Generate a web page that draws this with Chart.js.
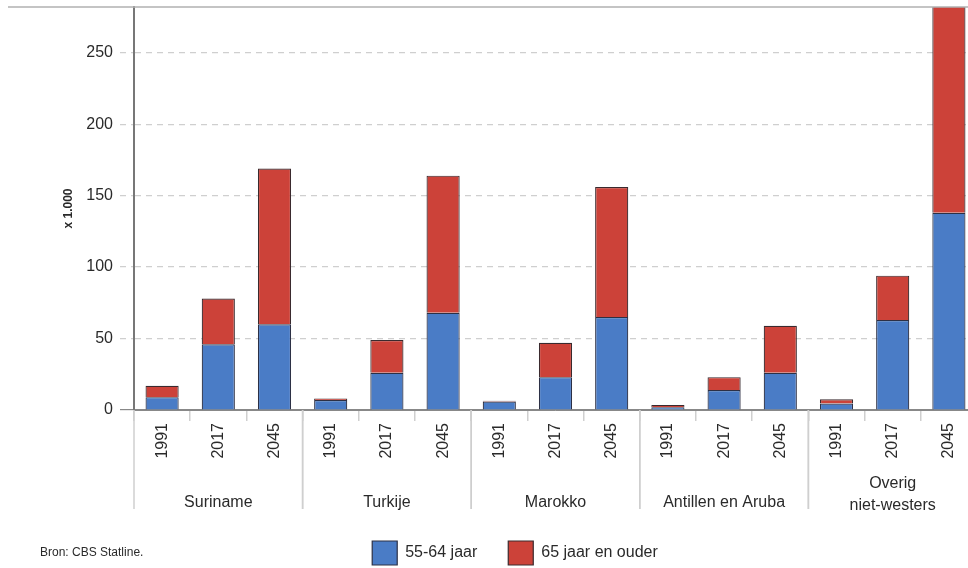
<!DOCTYPE html>
<html>
<head>
<meta charset="utf-8">
<script src="https://cdn.jsdelivr.net/npm/chart.js@4/dist/chart.umd.min.js"></script>
<style>
  html, body { margin: 0; padding: 0; background: #fff; overflow: hidden; }
  #wrap { width: 977px; height: 578px; }
</style>
</head>
<body>
<div id="wrap"><canvas id="chart"></canvas></div>
<script>
// data (x 1.000)
const groups = [['Suriname'], ['Turkije'], ['Marokko'], ['Antillen en Aruba'], ['Overig', 'niet-westers']];
const years = ['1991', '2017', '2045'];
const age5564 = [9, 46, 60, 7, 26, 68, 6, 23, 65, 2, 14, 26, 4.5, 63, 138];
const age65plus = [8, 32, 109, 1, 23, 96, 0.5, 24, 91, 1.5, 9, 33, 3, 31, 162];
const yTicks = [0, 50, 100, 150, 200, 250];

const labels = groups.flatMap(() => years);
const font = "'Liberation Sans', Arial, sans-serif";

// group names, separators, frame line and source note
const groupPlugin = {
    id: 'groups',
    afterDraw(chart) {
        const ctx = chart.ctx;
        const x = chart.scales.x;
        const area = chart.chartArea;
        ctx.save();
        // top frame line
        ctx.strokeStyle = '#b0b0b0';
        ctx.lineWidth = 1.5;
        ctx.beginPath();
        ctx.moveTo(8, area.top);
        ctx.lineTo(chart.width, area.top);
        ctx.stroke();

        ctx.strokeStyle = '#cfcfcf';
        ctx.lineWidth = 1.5;
        ctx.fillStyle = '#2a2a2a';
        ctx.font = '16px ' + font;
        ctx.textAlign = 'center';
        ctx.textBaseline = 'middle';
        groups.forEach((g, i) => {
            const first = i * years.length;
            const last = first + years.length - 1;
            const half = (x.getPixelForValue(1) - x.getPixelForValue(0)) / 2;
            const left = x.getPixelForValue(first) - half;
            const right = x.getPixelForValue(last) + half;
            [left, right].forEach(px => {
                ctx.beginPath();
                ctx.moveTo(px, area.bottom);
                ctx.lineTo(px, area.bottom + 99);
                ctx.stroke();
            });
            const cx = x.getPixelForValue(first + 1);
            if (g.length === 1) {
                ctx.fillText(g[0], cx, area.bottom + 93);
            } else {
                ctx.fillText(g[0], cx, area.bottom + 74);
                ctx.fillText(g[1], cx, area.bottom + 96);
            }
        });

        ctx.font = '12px ' + font;
        ctx.textAlign = 'left';
        ctx.fillText('Bron: CBS Statline.', 40, 553);
        ctx.restore();
    }
};

new Chart(document.getElementById('chart'), {
    type: 'bar',
    data: {
        labels: labels,
        datasets: [
            {
                label: '55-64 jaar',
                data: age5564,
                backgroundColor: '#4a7cc6',
                borderColor: '#2c3045',
                borderWidth: 1.2,
            },
            {
                label: '65 jaar en ouder',
                data: age65plus,
                backgroundColor: '#cc4239',
                borderColor: '#3a2a2e',
                borderWidth: 1.2,
            },
        ]
    },
    options: {
        responsive: true,
        maintainAspectRatio: false,
        animation: false,
        layout: { padding: { left: 53, right: 0, top: 7, bottom: 3 } },
        datasets: { bar: { categoryPercentage: 1, barPercentage: 0.59 } },
        plugins: {
            tooltip: { enabled: false },
            legend: {
                position: 'bottom',
                labels: {
                    boxWidth: 25,
                    boxHeight: 24,
                    padding: 31,
                    color: '#2a2a2a',
                    font: { family: font, size: 16 }
                }
            }
        },
        scales: {
            x: {
                stacked: true,
                afterFit(scale) { scale.height = 100; },
                grid: {
                    drawOnChartArea: false,
                    offset: true,
                    color: '#cfcfcf',
                    tickLength: 11,
                    lineWidth: 1.5
                },
                border: { color: '#888', width: 1 },
                ticks: {
                    autoSkip: false,
                    minRotation: 90,
                    maxRotation: 90,
                    padding: 2,
                    color: '#2a2a2a',
                    font: { family: font, size: 16 }
                }
            },
            y: {
                stacked: true,
                min: 0,
                max: 282,
                afterFit(scale) {
                    scale.width = 81;
                    scale.paddingTop = 0;
                    scale.paddingBottom = 0;
                },
                afterBuildTicks(scale) {
                    scale.ticks = yTicks.map(v => ({ value: v }));
                },
                title: {
                    display: true,
                    text: 'x 1.000',
                    color: '#2a2a2a',
                    padding: { top: 8, bottom: 0 },
                    font: { family: font, size: 12, weight: 'bold' }
                },
                grid: {
                    color: c => c.tick && c.tick.value === 0 ? '#888' : '#cfcfcf',
                    lineWidth: 1.2,
                    tickLength: 14,
                    tickBorderDash: c => c.tick && c.tick.value === 0 ? [] : [6, 5]
                },
                border: {
                    color: '#777',
                    width: 2,
                    dash: c => c.tick && c.tick.value === 0 ? [] : [6, 5]
                },
                ticks: {
                    padding: 7,
                    color: '#2a2a2a',
                    font: { family: font, size: 16 }
                }
            }
        }
    },
    plugins: [groupPlugin]
});
</script>
</body>
</html>
